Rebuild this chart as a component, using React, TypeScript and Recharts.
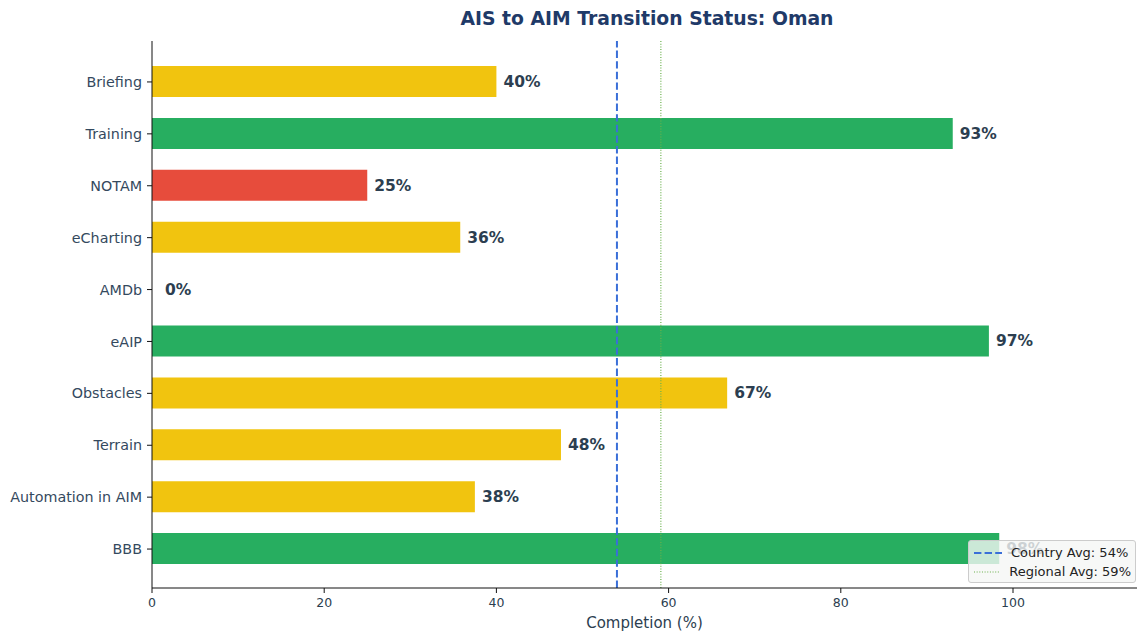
import React from 'react';
import {
  ComposedChart,
  Bar,
  Scatter,
  XAxis,
  YAxis,
  Cell,
  ReferenceLine,
} from 'recharts';

// Chart data
const categories = [
  'Briefing',
  'Training',
  'NOTAM',
  'eCharting',
  'AMDb',
  'eAIP',
  'Obstacles',
  'Terrain',
  'Automation in AIM',
  'BBB',
];
const completion = [40, 93, 25, 35.8, 0, 97.2, 66.8, 47.5, 37.5, 98.4];
const xTicks = [0, 20, 40, 60, 80, 100];
const countryAvg = 54;
const regionalAvg = 59.1;

const data = categories.map((name, i) => ({ name, value: completion[i] }));

const FONT = 'DejaVu Sans, sans-serif';
const TEXT = '#2c3e50';

const barColor = (v: number) => {
  if (v >= 80) return '#27ae60';
  if (v >= 30) return '#f1c40f';
  return '#e74c3c';
};

// value labels drawn as scatter shapes so the 0% bar gets one too
const ValueLabel = (props: any) => {
  const { cx, cy, payload } = props;
  const v = payload.value;
  const pad = v === 0 ? 13 : 7;
  return (
    <text
      x={cx + pad}
      y={cy}
      dy={5}
      fill={TEXT}
      fontFamily={FONT}
      fontSize={15.5}
      fontWeight="bold"
    >
      {`${Math.round(v)}%`}
    </text>
  );
};

const LegendBox = () => (
  <div
    style={{
      position: 'absolute',
      left: 968,
      top: 540,
      width: 168,
      height: 43,
      boxSizing: 'border-box',
      whiteSpace: 'nowrap',
      background: 'rgba(245,246,245,0.8)',
      border: '1px solid #cccccc',
      borderRadius: 3,
      padding: '2px 4px 0 5px',
      fontFamily: FONT,
      fontSize: 13,
      color: '#222',
      lineHeight: '19px',
    }}
  >
    <div style={{ display: 'flex', alignItems: 'center' }}>
      <svg width={28} height={10} style={{ marginRight: 9 }}>
        <line x1={0} y1={5} x2={28} y2={5} stroke="#3a6fd8" strokeWidth={2} strokeDasharray="7.4 3.2" />
      </svg>
      Country Avg: 54%
    </div>
    <div style={{ display: 'flex', alignItems: 'center' }}>
      <svg width={28} height={10} style={{ marginRight: 9 }}>
        <line x1={0} y1={5} x2={28} y2={5} stroke="#6ab04c" strokeWidth={1.2} strokeDasharray="1 1.65" />
      </svg>
      Regional Avg: 59%
    </div>
  </div>
);

export default function App() {
  return (
    <div style={{ position: 'absolute', left: 0, top: 0, width: 1137, height: 632, background: '#fff', overflow: 'hidden' }}>
      <div
        style={{
          position: 'absolute',
          top: 8,
          left: 152,
          width: 990,
          textAlign: 'center',
          fontFamily: FONT,
          fontWeight: 'bold',
          fontSize: 18.8,
          color: '#1f3a68',
        }}
      >
        AIS to AIM Transition Status: Oman
      </div>
      <ComposedChart
        width={1137}
        height={632}
        data={data}
        layout="vertical"
        margin={{ top: 41, right: 0, left: 0, bottom: 0 }}
      >
        <XAxis
          type="number"
          dataKey="value"
          domain={[0, 114.4]}
          ticks={xTicks}
          allowDataOverflow
          height={44}
          tick={{ fill: TEXT, fontFamily: FONT, fontSize: 12.5, dy: 3 }}
          tickSize={5}
          axisLine={{ stroke: '#111' }}
          tickLine={{ stroke: '#111' }}
          label={{
            value: 'Completion (%)',
            position: 'insideBottom',
            offset: 4,
            fill: TEXT,
            fontFamily: FONT,
            fontSize: 15,
          }}
        />
        <YAxis
          type="category"
          dataKey="name"
          width={152}
          padding={{ top: 15, bottom: 13 }}
          tick={{ fill: '#34495e', fontFamily: FONT, fontSize: 14.3, dx: -3 }}
          tickSize={5}
          axisLine={{ stroke: '#111' }}
          tickLine={{ stroke: '#111' }}
        />
        <Bar dataKey="value" barSize={31} isAnimationActive={false}>
          {data.map((d) => (
            <Cell key={d.name} fill={barColor(d.value)} />
          ))}
        </Bar>
        <ReferenceLine x={countryAvg} stroke="#3a6fd8" strokeWidth={2} strokeDasharray="7.4 3.2" />
        <ReferenceLine x={regionalAvg} stroke="#6ab04c" strokeWidth={1.2} strokeDasharray="1 1.65" />
        <Scatter dataKey="value" shape={<ValueLabel />} isAnimationActive={false} />
      </ComposedChart>
      <LegendBox />
    </div>
  );
}
